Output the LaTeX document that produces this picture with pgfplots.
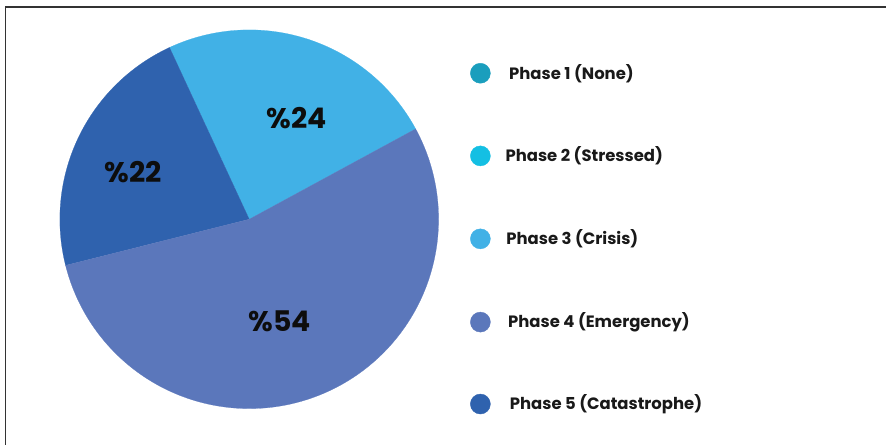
\documentclass[border=0pt]{standalone}
\usepackage{pgfplots}
\pgfplotsset{compat=1.18}
\usepackage{fontspec}
\setmainfont{Poppins}
\definecolor{cA}{HTML}{1A9EBD}
\definecolor{cB}{HTML}{14BFE3}
\definecolor{cC}{HTML}{41B1E6}
\definecolor{cD}{HTML}{5B77BB}
\definecolor{cE}{HTML}{2F62AE}
% shares (percent) of the slices, counter-clockwise from the start angle
\def\pCrisis{24}
\def\pCatas{22}
\def\pEmerg{54}
\def\startang{28.5}
\pgfmathsetmacro{\aA}{\startang}
\pgfmathsetmacro{\aB}{\aA+3.6*\pCrisis}
\pgfmathsetmacro{\aC}{\aB+3.6*\pCatas}
\pgfmathsetmacro{\aD}{\aC+3.6*\pEmerg}
\def\cx{249.4}
\def\cy{219.4}
\def\rr{189.5}
\begin{document}
\begin{tikzpicture}
\begin{axis}[
  width=887bp, height=445bp, scale only axis,
  xmin=0, xmax=887, ymin=0, ymax=445, y dir=reverse,
  hide axis, clip=false,
]
\path (rel axis cs:0,0) rectangle (rel axis cs:1,1);
% pie slices
\addplot[fill=cC, draw=cC, line width=0.2pt, domain=\aA:\aB, samples=120, variable=\t]
  ({\cx+\rr*cos(t)}, {\cy-\rr*sin(t)}) -- (axis cs:\cx,\cy) -- cycle;
\addplot[fill=cE, draw=cE, line width=0.2pt, domain=\aB:\aC, samples=120, variable=\t]
  ({\cx+\rr*cos(t)}, {\cy-\rr*sin(t)}) -- (axis cs:\cx,\cy) -- cycle;
\addplot[fill=cD, draw=cD, line width=0.2pt, domain=\aC:\aD, samples=200, variable=\t]
  ({\cx+\rr*cos(t)}, {\cy-\rr*sin(t)}) -- (axis cs:\cx,\cy) -- cycle;
% slice labels
\tikzset{pct/.style={font=\fontsize{28.5}{28.5}\selectfont\bfseries, text=black!95}}
\node[pct] at (axis cs:296.7,118.3) {\%24};
\node[pct] at (axis cs:133.3,171.7) {\%22};
\node[pct] at (axis cs:280,321.7) {\%54};
% legend markers
\addplot[only marks, mark=*, mark size=10bp, mark options={fill=cA, draw=cA}] coordinates {(480.7,73.3)};
\addplot[only marks, mark=*, mark size=10bp, mark options={fill=cB, draw=cB}] coordinates {(480.7,156)};
\addplot[only marks, mark=*, mark size=10bp, mark options={fill=cC, draw=cC}] coordinates {(480.7,239)};
\addplot[only marks, mark=*, mark size=10bp, mark options={fill=cD, draw=cD}] coordinates {(480.7,322.3)};
\addplot[only marks, mark=*, mark size=10bp, mark options={fill=cE, draw=cE}] coordinates {(480.7,404.3)};
% legend texts
\tikzset{legtxt/.style={anchor=west, inner sep=0pt, font=\fontsize{16.5}{16.5}\selectfont\bfseries, text=black!90}}
\node[legtxt] at (axis cs:509.3,73.3) {Phase 1 (None)};
\node[legtxt] at (axis cs:505.7,156) {Phase 2 (Stressed)};
\node[legtxt] at (axis cs:506.5,239) {Phase 3 (Crisis)};
\node[legtxt] at (axis cs:508.3,322.3) {Phase 4 (Emergency)};
\node[legtxt] at (axis cs:510,404.3) {Phase 5 (Catastrophe)};
% frame
\draw[line width=1.2bp, color=black!80] (axis cs:5.3,445) -- (axis cs:5.3,7) -- (axis cs:887,7);
\end{axis}
\end{tikzpicture}
\end{document}
